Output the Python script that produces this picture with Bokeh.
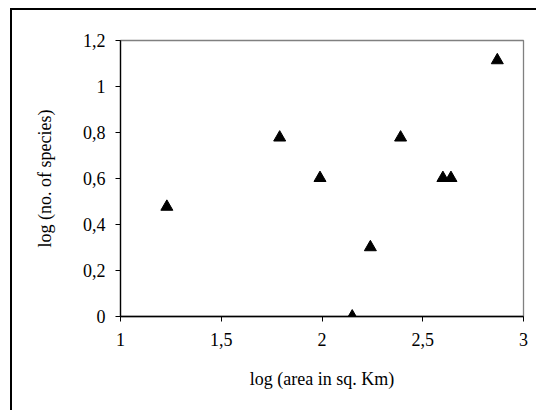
from bokeh.plotting import figure
from bokeh.models import FixedTicker
from bokeh.embed import file_html
from bokeh.resources import INLINE

# data (log10 area, log10 species)
log_area = [1.23, 1.79, 1.99, 2.15, 2.24, 2.39, 2.60, 2.64, 2.87]
log_species = [0.477, 0.778, 0.602, 0.0, 0.301, 0.778, 0.602, 0.602, 1.114]

x_ticks = [1, 1.5, 2, 2.5, 3]
x_tick_labels = ["1", "1,5", "2", "2,5", "3"]
y_ticks = [0, 0.2, 0.4, 0.6, 0.8, 1.0, 1.2]
y_tick_labels = ["0", "0,2", "0,4", "0,6", "0,8", "1", "1,2"]

x_title = "log (area in sq. Km)"
y_title = "log (no. of species)"

FONT = "Liberation Serif"

p = figure(width=536, height=410, output_backend="svg", toolbar_location=None,
           x_range=(1, 3), y_range=(0, 1.2),
           min_border_left=120, min_border_right=13, min_border_top=40, min_border_bottom=94)
p.background_fill_color = "white"
p.border_fill_color = None
p.outline_line_color = "#808080"
p.outline_line_width = 1.3
p.xgrid.visible = False
p.ygrid.visible = False

p.scatter(log_area, log_species, marker="triangle", size=12,
          fill_color="black", line_color="black")

for ax, ticks, labels in ((p.xaxis[0], x_ticks, x_tick_labels), (p.yaxis[0], y_ticks, y_tick_labels)):
    ax.ticker = FixedTicker(ticks=ticks)
    ax.major_label_overrides = {t: l for t, l in zip(ticks, labels)}
    ax.minor_tick_line_color = None
    ax.major_tick_in = 0
    ax.major_tick_out = 5
    ax.axis_line_color = "black"
    ax.axis_line_width = 1.3
    ax.major_tick_line_color = "black"
    ax.major_label_text_font = FONT
    ax.major_label_text_font_size = "18px"
    ax.major_label_text_color = "black"
    ax.axis_label_text_font = FONT
    ax.axis_label_text_font_size = "18px"
    ax.axis_label_text_font_style = "normal"
    ax.axis_label_text_color = "black"

p.xaxis[0].axis_label = x_title
p.yaxis[0].axis_label = y_title
p.xaxis[0].major_label_standoff = 11
p.yaxis[0].major_label_standoff = 10
p.xaxis[0].axis_label_standoff = 20
p.yaxis[0].axis_label_standoff = 25

# outer chart-area frame (left and top edges; the rest lies outside the picture)
p.styles = {
    "background": ("linear-gradient(#000, #000) 10px 8.3px / 2.3px 100% no-repeat, "
                   "linear-gradient(#000, #000) 10px 8.3px / 100% 2.3px no-repeat, #fff"),
}

open("out.html", "w").write(file_html(p, INLINE))
